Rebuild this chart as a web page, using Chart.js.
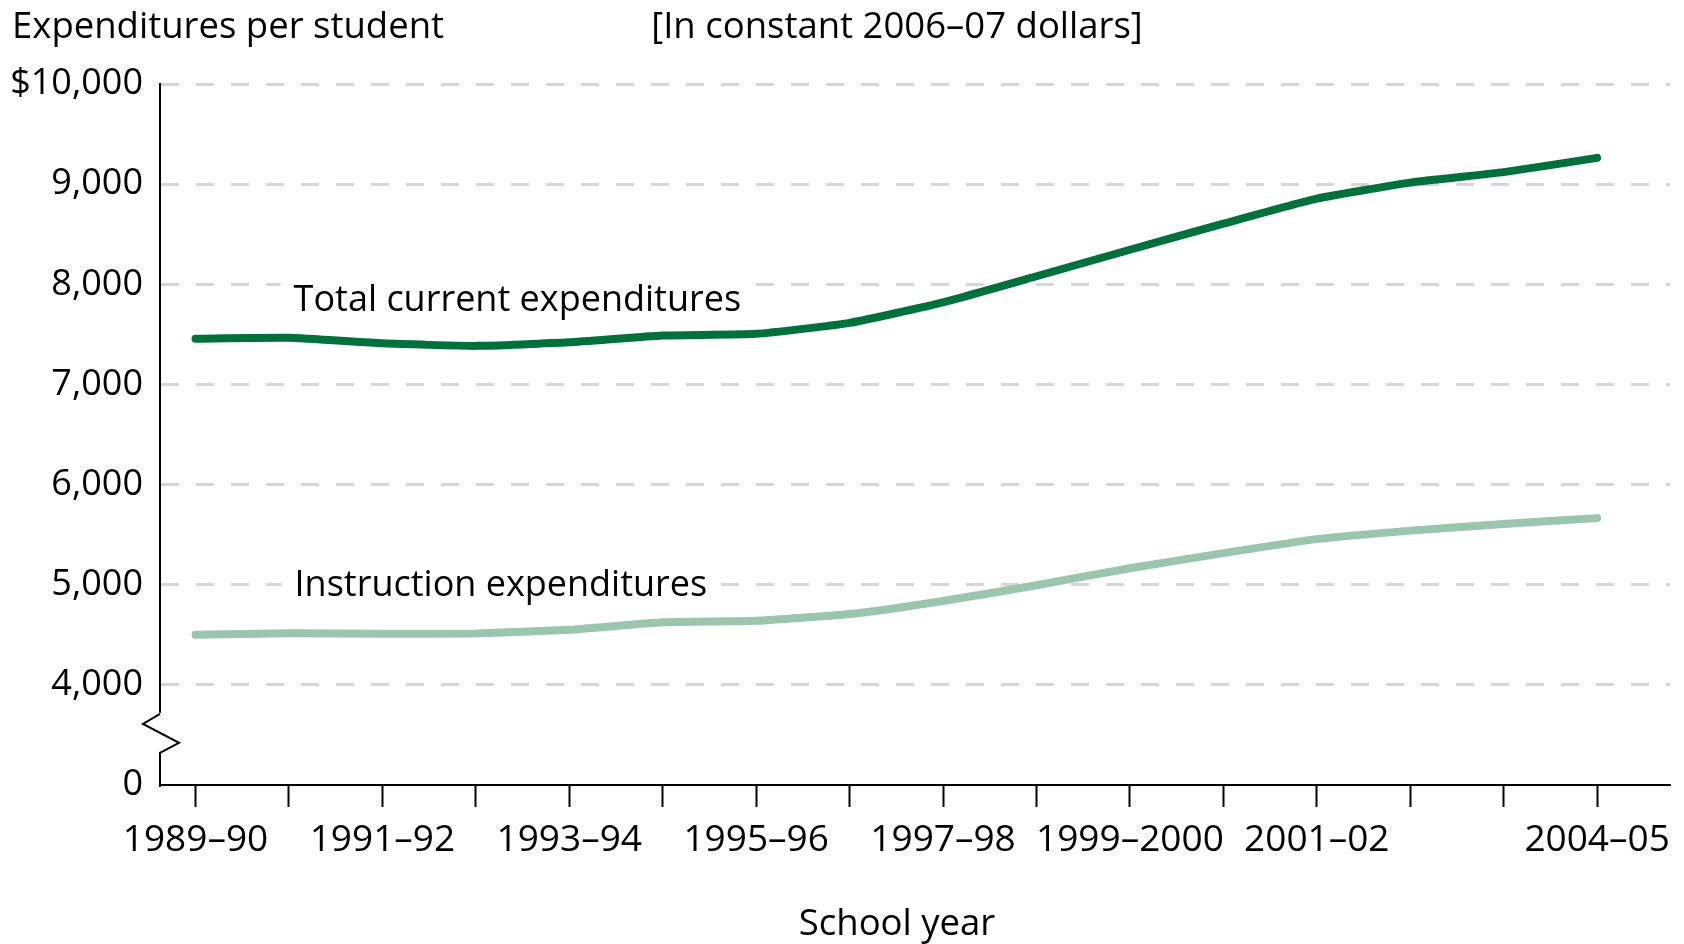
<!DOCTYPE html>
<html>
<head>
<meta charset="utf-8">
<title>Expenditures per student</title>
<script src="https://cdn.jsdelivr.net/npm/chart.js@4.4.1/dist/chart.umd.min.js"></script>
<style>
    html, body { margin: 0; padding: 0; background: #fff; }
    #wrap { position: relative; width: 1684px; height: 944px; }
</style>
</head>
<body>
<div id="wrap"><canvas id="expChart" width="1684" height="944"></canvas></div>
<script>
// School years on the x axis
const schoolYears = ['1989–90', '1990–91', '1991–92', '1992–93', '1993–94', '1994–95', '1995–96', '1996–97',
    '1997–98', '1998–99', '1999–2000', '2000–01', '2001–02', '2002–03', '2003–04', '2004–05'];
// Only some years get a printed label
const tickLabels = ['1989–90', '', '1991–92', '', '1993–94', '', '1995–96', '', '1997–98', '',
    '1999–2000', '', '2001–02', '', '', '2004–05'];

// Expenditures per student, constant 2006-07 dollars
const totalExpenditures = [7457, 7465, 7410, 7385, 7420, 7488, 7505, 7615, 7820, 8080, 8345, 8605, 8855, 9015, 9120, 9262];
const instructionExpenditures = [4500, 4515, 4510, 4513, 4550, 4625, 4640, 4707, 4838, 4995, 5165, 5315, 5455, 5540, 5607, 5665];

// y axis is broken: 3000 is drawn as "0"
const yTicks = [3000, 4000, 5000, 6000, 7000, 8000, 9000, 10000];
const yTickLabels = ['0', '4,000', '5,000', '6,000', '7,000', '8,000', '9,000', '$10,000'];

const seriesNames = ['Total current expenditures', 'Instruction expenditures'];

const FONT = '"Open Sans", "Noto Sans", sans-serif';
const TEXT = '#000';

// Titles, series labels and the axis break
const overlayPlugin = {
    id: 'overlay',
    afterDraw(chart) {
        const { ctx, scales: { x, y } } = chart;
        ctx.save();

        // axis break between 4,000 and 0
        const ax = x.left;
        const y4 = y.getPixelForValue(4000);
        ctx.fillStyle = '#fff';
        ctx.fillRect(ax - 4, y4 + 28, 8, 42);
        ctx.strokeStyle = '#000';
        ctx.lineWidth = 2;
        ctx.lineJoin = 'miter';
        ctx.beginPath();
        ctx.moveTo(ax, y4 + 29);
        ctx.lineTo(ax - 17, y4 + 39);
        ctx.lineTo(ax + 19, y4 + 58);
        ctx.lineTo(ax, y4 + 68);
        ctx.lineTo(ax, y4 + 72);
        ctx.stroke();

        // series labels with white box over the grid
        ctx.font = '36px ' + FONT;
        ctx.textBaseline = 'middle';
        ctx.textAlign = 'left';
        const labelSpots = [[1.05, 7840], [1.06, 4990]];
        seriesNames.forEach((name, i) => {
            const px = x.getPixelForValue(labelSpots[i][0]);
            const py = y.getPixelForValue(labelSpots[i][1]);
            const w = ctx.measureText(name).width;
            ctx.fillStyle = '#fff';
            ctx.fillRect(px - 13, py - 20, w + 26, 40);
            ctx.fillStyle = TEXT;
            ctx.fillText(name, px, py);
        });

        // headings
        ctx.font = '36.5px ' + FONT;
        ctx.fillStyle = TEXT;
        ctx.textAlign = 'left';
        ctx.fillText('Expenditures per student', 12, 28);
        ctx.textAlign = 'center';
        ctx.fillText('[In constant 2006–07 dollars]', 897, 28);
        ctx.fillText('School year', 897, 925);

        ctx.restore();
    }
};

const chart = new Chart(document.getElementById('expChart'), {
    type: 'line',
    data: {
        datasets: [
            {
                label: seriesNames[0],
                data: totalExpenditures.map((v, i) => ({ x: i, y: v })),
                borderColor: '#00703C',
                borderWidth: 8,
                borderCapStyle: 'round',
                borderJoinStyle: 'round',
                pointRadius: 0,
                tension: 0.15
            },
            {
                label: seriesNames[1],
                data: instructionExpenditures.map((v, i) => ({ x: i, y: v })),
                borderColor: '#9CC5B0',
                borderWidth: 8,
                borderCapStyle: 'round',
                borderJoinStyle: 'round',
                pointRadius: 0,
                tension: 0.15
            }
        ]
    },
    options: {
        responsive: false,
        animation: false,
        layout: { padding: { top: 84, right: 14, left: 0, bottom: 0 } },
        scales: {
            x: {
                type: 'linear',
                min: -0.38,
                max: 15.78,
                afterBuildTicks: s => { s.ticks = schoolYears.map((_, i) => ({ value: i })); },
                afterFit: s => { s.height = 159; },
                border: { color: '#000', width: 2 },
                grid: {
                    drawOnChartArea: false,
                    drawTicks: true,
                    tickLength: 22,
                    tickWidth: 2,
                    tickColor: '#000'
                },
                ticks: {
                    autoSkip: false,
                    maxRotation: 0,
                    padding: 11,
                    color: TEXT,
                    font: { family: FONT, size: 37 },
                    callback: v => tickLabels[Math.round(v)] || ''
                }
            },
            y: {
                type: 'linear',
                min: 3000,
                max: 10000,
                afterBuildTicks: s => { s.ticks = yTicks.map(v => ({ value: v })); },
                afterFit: s => { s.width = 160; },
                border: { color: '#000', width: 2, dash: [18, 17] },
                grid: {
                    color: c => (c.tick && c.tick.value === 3000) ? 'rgba(0,0,0,0)' : '#d6d6d6',
                    lineWidth: 3,
                    drawTicks: false
                },
                ticks: {
                    padding: 17,
                    color: TEXT,
                    font: { family: FONT, size: 36 },
                    callback: v => yTickLabels[yTicks.indexOf(v)]
                }
            }
        },
        plugins: {
            legend: { display: false },
            tooltip: { enabled: false }
        }
    },
    plugins: [overlayPlugin]
});
</script>
</body>
</html>
